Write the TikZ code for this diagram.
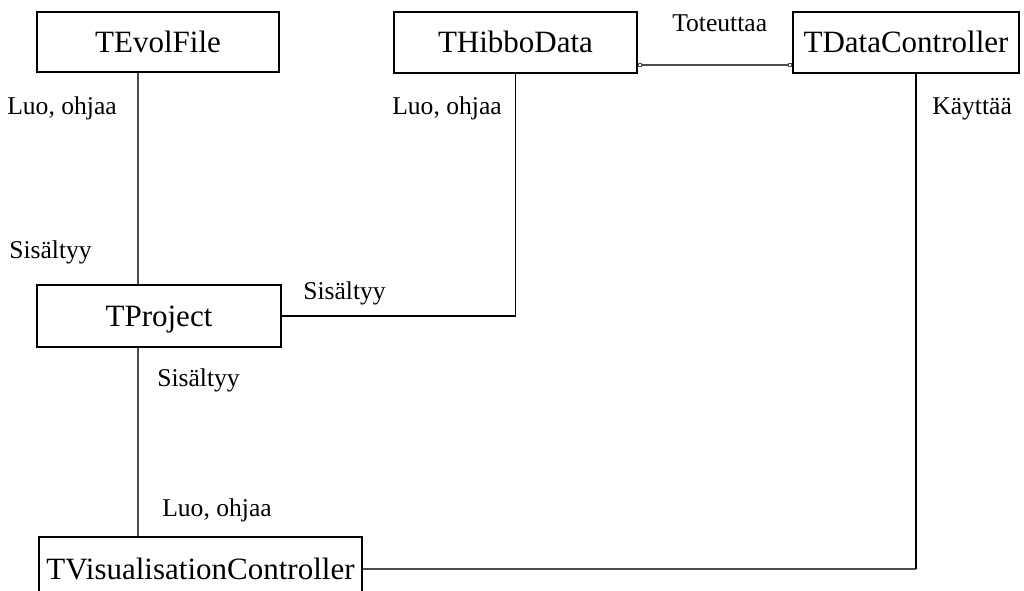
\documentclass[tikz,border=0pt]{standalone}
\usepackage{fontspec}
\setmainfont{Liberation Serif}
\usetikzlibrary{positioning}
\usetikzlibrary{arrows.meta}

\begin{document}
\begin{tikzpicture}[x=0.75pt,y=-0.75pt,
luokka/.style={draw,line width=1.5pt,inner sep=0pt,text height=15.4pt,text depth=0pt,font=\fontsize{23.25}{26}\selectfont},
suhde/.style={inner sep=0pt,anchor=base west,font=\fontsize{19.2}{22}\selectfont},
viiva/.style={line width=0.9pt,black!70}
]
\useasboundingbox (0,0) rectangle (1024,591);
\clip (0,0) rectangle (1024,591);
\node[luokka,minimum width=181.5pt,minimum height=45pt] (evolfile) at (158,42) {TEvolFile};
\node[luokka,minimum width=182.25pt,minimum height=45.75pt] (hibbodata) at (515.5,42.5) {THibboData};
\node[luokka,minimum width=169.5pt,minimum height=45.75pt] (datacontroller) at (906,42.5) {TDataController};
\node[luokka,minimum width=183pt,minimum height=46.5pt] (project) at (159,316) {TProject};
\node[luokka,minimum width=242.25pt,minimum height=48pt] (viscontroller) at (200.5,569) {TVisualisationController};
\coordinate (sarake) at (138,0);
\coordinate (kayttosarake) at (916,0);
\coordinate (toteutus) at (0,65);
\coordinate (kulma) at (viscontroller.east -| kayttosarake);

\draw[viiva] (evolfile.south -| sarake) -- (project.north -| sarake);
\draw[viiva] (project.south -| sarake) -- (viscontroller.north -| sarake);
\draw[viiva,black] (project.east) -| (hibbodata.south);
\draw[viiva,{Square[open,length=3pt,width=3pt]}-{Square[open,length=3pt,width=3pt]}]
  (hibbodata.east |- toteutus) -- (datacontroller.west |- toteutus);
\draw[viiva] (viscontroller.east) -- (kulma);
\draw[viiva,black] (kulma) -- (datacontroller.south -| kayttosarake);

\node[suhde] (luo1) at (7,115) {Luo, ohjaa};
\node[suhde] (luo2) at (392,115) {Luo, ohjaa};
\node[suhde] (toteuttaa) at (672,32) {Toteuttaa};
\node[suhde] (kayttaa) at (932,115) {Käyttää};
\node[suhde] (sisaltyy1) at (9,259) {Sisältyy};
\node[suhde] (sisaltyy2) at (303,300) {Sisältyy};
\node[suhde] (sisaltyy3) at (157,387) {Sisältyy};
\node[suhde] (luo3) at (162,516) {Luo, ohjaa};
\end{tikzpicture}
\end{document}
